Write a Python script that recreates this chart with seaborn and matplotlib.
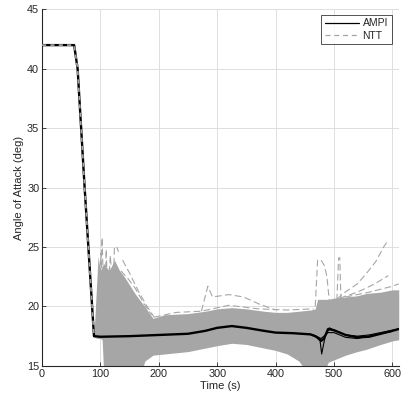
import matplotlib
matplotlib.use("Agg")
import matplotlib.pyplot as plt
import seaborn as sns
import numpy as np
import pandas as pd
from matplotlib.lines import Line2D

# ---------------- data ----------------
# AMPI nominal trajectory
ampi_t = [0, 55, 61, 73, 89, 100, 150, 200, 250, 280, 300, 325, 350, 380, 400,
          430, 460, 470, 478, 483, 490, 500, 520, 540, 560, 580, 600, 611]
ampi_v = [42, 42, 40, 30, 17.5, 17.45, 17.5, 17.6, 17.7, 17.95, 18.2, 18.35, 18.2,
          17.95, 17.8, 17.75, 17.65, 17.45, 17.1, 17.3, 18.1, 18.0, 17.6, 17.4,
          17.45, 17.7, 17.95, 18.1]
# AMPI dispersed runs near the end
ampi2_t = [465, 476, 479, 485, 492, 505, 520, 540, 560, 580, 600, 611]
ampi2_v = [17.6, 17.2, 16.0, 17.5, 18.2, 17.9, 17.6, 17.5, 17.6, 17.8, 18.0, 18.1]
ampi3_t = [465, 478, 490, 500, 520, 540, 560, 580, 600]
ampi3_v = [17.6, 17.3, 17.8, 17.8, 17.4, 17.3, 17.5, 17.7, 17.9]

# NTT nominal (initial phase)
ntt_t = [0, 55, 61, 73, 89]
ntt_v = [42, 42, 40, 30, 17.5]

# NTT Monte-Carlo envelope
band_t = [89, 96, 100, 103, 106, 115, 124, 133, 141, 150, 159, 168, 176, 190, 210,
          250, 280, 300, 325, 350, 380, 400, 420, 440, 460, 468, 472, 480, 490,
          500, 520, 540, 556, 580, 600, 611]
band_hi = [17.6, 24.2, 23.0, 23.4, 23.6, 23.0, 23.9, 23.0, 22.5, 21.8, 21.1, 20.5,
           20.0, 19.0, 19.3, 19.4, 19.6, 19.8, 19.9, 19.8, 19.6, 19.5, 19.5, 19.6,
           19.7, 19.8, 20.6, 20.6, 20.6, 20.7, 20.8, 20.9, 21.1, 21.2, 21.4, 21.4]
band_lo = [17.4, 17.3, 17.3, 17.2, 14.0, 14.0, 14.0, 14.0, 14.0, 14.0, 14.0, 14.0,
           15.4, 15.9, 16.0, 16.2, 16.5, 16.7, 16.9, 16.8, 16.5, 16.3, 16.0, 15.4,
           14.0, 14.0, 14.0, 14.0, 15.3, 15.5, 15.9, 16.2, 16.4, 16.8, 17.1, 17.2]

# NTT outlier runs
out_runs = {
    "o1": ([98, 103, 106], [20.0, 25.8, 20.0]),
    "o1b": ([99, 101, 103], [21.0, 24.5, 21.5]),
    "o1c": ([108, 110, 112], [21.5, 24.8, 21.5]),
    "o1d": ([114, 117, 120], [22.0, 24.3, 22.0]),
    "o2": ([122, 124, 128, 131], [21.0, 25.0, 25.0, 24.6]),
    "o3": ([138, 150, 165, 180, 192], [23.9, 22.8, 21.3, 20.0, 19.1]),
    "o3b": ([135, 148, 160, 175, 188], [23.0, 22.3, 21.5, 20.2, 19.3]),
    "o4": ([273, 284, 292, 320, 345, 372, 400], [19.6, 21.7, 20.8, 21.0, 20.8, 20.2, 19.7]),
    "o5": ([192, 230, 273, 320, 370, 420, 465], [19.1, 19.5, 19.6, 20.1, 19.8, 19.7, 19.8]),
    "o6": ([468, 472, 478, 484, 488, 492], [20.0, 23.9, 23.9, 23.4, 22.5, 20.5]),
    "o7": ([505, 508, 510, 512], [20.5, 24.1, 24.1, 20.5]),
    "o8": ([505, 516, 540, 556, 572, 585, 592], [20.6, 21.1, 21.9, 22.8, 23.8, 25.0, 25.5]),
    "o9": ([510, 540, 570, 593], [20.7, 21.2, 21.9, 22.6]),
    "o10": ([520, 560, 600, 611], [20.8, 21.2, 21.7, 21.9]),
}

x_ticks = [0, 100, 200, 300, 400, 500, 600]
y_ticks = [15, 20, 25, 30, 35, 40, 45]

# ---------------- style ----------------
sns.set_theme(style="whitegrid")
plt.rcParams['font.family'] = ['Liberation Sans', 'DejaVu Sans']
axcol = "#262626"
gray = "#a6a6a6"

fig = plt.figure(figsize=(4.04, 4.12), dpi=100)
ax = fig.add_axes([0.104, 0.112, 0.883, 0.865])

ax.fill_between(band_t, band_lo, band_hi, color=gray, linewidth=0, zorder=1)
for name, (tt, vv) in out_runs.items():
    sns.lineplot(x=tt, y=vv, ax=ax, color=gray, linestyle=(0, (6, 3)),
                 linewidth=0.8, sort=False, estimator=None, zorder=2)

for tt, vv in [(ampi2_t, ampi2_v), (ampi3_t, ampi3_v)]:
    sns.lineplot(x=tt, y=vv, ax=ax, color="black", linewidth=0.8,
                 sort=False, estimator=None, zorder=3)
sns.lineplot(x=ampi_t, y=ampi_v, ax=ax, color="black", linewidth=1.7,
             sort=False, estimator=None, zorder=3)
sns.lineplot(x=ntt_t, y=ntt_v, ax=ax, color=gray, linestyle=(0, (2.5, 2.5)),
             linewidth=1.2, sort=False, estimator=None, zorder=4)

ax.set_xlim(0, 611)
ax.set_ylim(15, 45)
ax.set_xticks(x_ticks)
ax.set_yticks(y_ticks)
ax.grid(True, color="#dedede", linewidth=0.7)
ax.set_facecolor("white")
for s in ["top", "right"]:
    ax.spines[s].set_visible(False)
for s in ["left", "bottom"]:
    ax.spines[s].set_color(axcol)
    ax.spines[s].set_linewidth(0.8)
ax.tick_params(direction="in", length=3, width=0.6, colors=axcol,
               labelsize=7.8, pad=2, left=True, bottom=True)
ax.set_xlabel("Time (s)", fontsize=8, color=axcol, labelpad=2)
ax.set_ylabel("Angle of Attack (deg)", fontsize=8, color=axcol, labelpad=2)

handles = [Line2D([0], [0], color="black", linewidth=0.9),
           Line2D([0], [0], color=gray, linewidth=0.9, linestyle=(0, (4, 3)))]
leg = ax.legend(handles, ["AMPI", "NTT"], loc="upper right", fontsize=7.5,
                frameon=True, fancybox=False, handlelength=3.3, handletextpad=0.3,
                borderpad=0.35, labelspacing=0.2, bbox_to_anchor=(0.98, 0.985),
                borderaxespad=0)
leg.get_frame().set_edgecolor(axcol)
leg.get_frame().set_linewidth(0.7)

fig.savefig("out.png", dpi=100, facecolor="white")
